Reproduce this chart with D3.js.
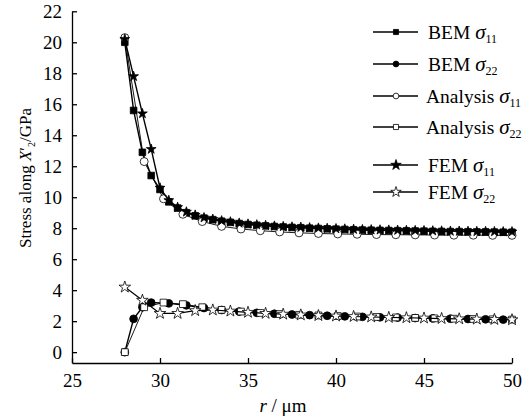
<!DOCTYPE html>
<html>
<head>
<meta charset="utf-8">
<script src="https://cdn.jsdelivr.net/npm/d3@7"></script>
<style>
  body { margin: 0; background: #fff; }
  svg { display: block; }
  svg text { font-family: 'Liberation Serif', 'Times New Roman', Tinos, serif; fill: #000; }
</style>
</head>
<body>
<div id="chart"></div>
<script>
const WIDTH = 529
const HEIGHT = 419
const FONT = "'Liberation Serif', 'Times New Roman', Tinos, serif"

// r (μm) sample positions for each series
const R_HALF = [28, 28.5, 29, 29.5, 30, 30.5, 31, 31.5, 32, 32.5, 33, 33.5, 34, 34.5, 35, 35.5, 36, 36.5, 37, 37.5,
  38, 38.5, 39, 39.5, 40, 40.5, 41, 41.5, 42, 42.5, 43, 43.5, 44, 44.5, 45, 45.5, 46, 46.5, 47, 47.5,
  48, 48.5, 49, 49.5, 50]
const R_ANALYSIS = [28, 29.1, 30.2, 31.3, 32.4, 33.5, 34.6, 35.7, 36.8, 37.9, 39, 40.1, 41.2, 42.3, 43.4, 44.5,
  45.6, 46.7, 47.8, 48.9, 50]
const R_BEM22 = [28, 28.5, 29, 29.5, 30.5, 31.5, 32.5, 33.5, 34.5, 35.5, 36.5, 37.5, 38.5, 39.5, 40.5, 41.5,
  42.5, 43.5, 44.5, 45.5, 46.5, 47.5, 48.5, 49.5]
const R_FEM22 = [28, 29, 30, 31, 32, 33, 34, 35, 36, 37, 38, 39, 40, 41, 42, 43, 44, 45, 46, 47, 48, 49, 50]

// stress values (GPa)
const BEM_S11 = [20.0, 15.6, 12.9, 11.4, 10.5, 9.7, 9.3, 9.0, 8.8, 8.65, 8.55, 8.45, 8.38, 8.3, 8.24, 8.19, 8.15, 8.11, 8.08, 8.05,
  8.03, 8.0, 7.98, 7.96, 7.94, 7.92, 7.9, 7.88, 7.87, 7.86, 7.85, 7.84, 7.83, 7.82, 7.81, 7.8, 7.79, 7.78, 7.78, 7.77,
  7.76, 7.76, 7.75, 7.74, 7.74]
const FEM_S11 = [20.2, 17.8, 15.4, 13.1, 10.6, 9.8, 9.35, 9.05, 8.85, 8.68, 8.58, 8.48, 8.41, 8.33, 8.27, 8.22, 8.18, 8.14, 8.11, 8.08,
  8.06, 8.03, 8.01, 7.99, 7.97, 7.95, 7.93, 7.91, 7.9, 7.89, 7.88, 7.87, 7.86, 7.85, 7.84, 7.83, 7.82, 7.81, 7.81, 7.8,
  7.79, 7.79, 7.78, 7.77, 7.77]
const ANA_S11 = [20.3, 12.3, 9.9, 8.9, 8.43, 8.12, 7.95, 7.84, 7.76, 7.7, 7.66, 7.63, 7.61, 7.59, 7.58, 7.57,
  7.56, 7.55, 7.55, 7.54, 7.54]
const ANA_S22 = [0, 2.9, 3.2, 3.1, 2.9, 2.73, 2.62, 2.53, 2.46, 2.41, 2.37, 2.33, 2.3, 2.27, 2.24, 2.21,
  2.18, 2.16, 2.14, 2.12, 2.1]
const BEM_S22 = [0, 2.15, 2.9, 3.2, 3.15, 3.02, 2.85, 2.72, 2.62, 2.54, 2.48, 2.43, 2.39, 2.35, 2.31, 2.28,
  2.25, 2.23, 2.2, 2.18, 2.16, 2.14, 2.12, 2.1]
const FEM_S22 = [4.2, 3.35, 2.5, 2.5, 2.68, 2.72, 2.65, 2.57, 2.5, 2.45, 2.4, 2.36, 2.33, 2.3, 2.27, 2.24,
  2.22, 2.2, 2.17, 2.15, 2.13, 2.11, 2.09]

const X_TICKS = [25, 30, 35, 40, 45, 50]
const Y_TICKS = [0, 2, 4, 6, 8, 10, 12, 14, 16, 18, 20, 22]

const LEGEND_NAMES = ['BEM', 'BEM', 'Analysis', 'Analysis', 'FEM', 'FEM']
const LEGEND_SUBS = ['11', '22', '11', '22', '11', '22']

const series = [
  {r: R_HALF, v: BEM_S11, sym: d3.symbolSquare, size: 44, fill: '#000', lw: 1.4},
  {r: R_BEM22, v: BEM_S22, sym: d3.symbolCircle, size: 48, fill: '#000', lw: 1.4},
  {r: R_ANALYSIS, v: ANA_S11, sym: d3.symbolCircle, size: 50, fill: '#fff', lw: 0.9},
  {r: R_ANALYSIS, v: ANA_S22, sym: d3.symbolSquare, size: 46, fill: '#fff', lw: 0.9},
  {r: R_HALF, v: FEM_S11, sym: d3.symbolStar, size: 30, fill: '#000', lw: 1.4},
  {r: R_FEM22, v: FEM_S22, sym: d3.symbolStar, size: 42, fill: '#fff', lw: 1.2}
]

const svg = d3.select('#chart').append('svg')
  .attr('width', WIDTH).attr('height', HEIGHT)

const x = d3.scaleLinear().domain([25, 50]).range([72, 512])
const y = d3.scaleLinear().domain([-0.7, 22]).range([363, 11.3])

// 坐标轴
const xAxis = d3.axisBottom(x).tickValues(X_TICKS).tickSize(-5).tickSizeOuter(0).tickPadding(11)
const xg = svg.append('g').attr('transform', `translate(0, ${y(-0.7)})`).call(xAxis)
const yAxis = d3.axisLeft(y).tickValues(Y_TICKS).tickSize(-5).tickSizeOuter(0).tickPadding(10)
const yg = svg.append('g').attr('transform', `translate(${x(25)}, 0)`).call(yAxis)

for (const g of [xg, yg]) {
  g.attr('font-family', FONT)
  g.selectAll('.domain, .tick line').attr('stroke', '#000').attr('stroke-width', 1.3)
  g.selectAll('.tick text').attr('font-size', 19).attr('font-family', FONT)
}

// 数据曲线
const line = d3.line().x(d => x(d[0])).y(d => y(d[1]))
series.forEach(s => {
  const pts = s.r.map((r, i) => [r, s.v[i]])
  svg.append('path').datum(pts)
    .attr('d', line).attr('fill', 'none')
    .attr('stroke', '#000').attr('stroke-width', s.lw)
  svg.append('g').selectAll('path').data(pts).join('path')
    .attr('transform', d => `translate(${x(d[0])}, ${y(d[1])})`)
    .attr('d', d3.symbol(s.sym, s.size))
    .attr('fill', s.fill).attr('stroke', '#000').attr('stroke-width', 0.8)
})

// 图例
const LEGEND_Y = [32, 64, 96, 127, 165, 192]
const legend = svg.append('g').attr('font-family', FONT)
series.forEach((s, i) => {
  const row = legend.append('g').attr('transform', `translate(0, ${LEGEND_Y[i]})`)
  row.append('line').attr('x1', 373).attr('x2', 418)
    .attr('stroke', '#000').attr('stroke-width', 1.3)
  row.append('path').attr('transform', 'translate(396, 0)')
    .attr('d', d3.symbol(s.sym, s.sym === d3.symbolStar ? 34 : 26))
    .attr('fill', s.fill).attr('stroke', '#000').attr('stroke-width', 0.8)
  const t = row.append('text').attr('x', LEGEND_NAMES[i] === 'Analysis' ? 426 : 428)
    .attr('y', 6.5).attr('font-size', 19.5)
  t.append('tspan').text(LEGEND_NAMES[i] + ' ')
  t.append('tspan').attr('font-style', 'italic').attr('font-size', 21).text('σ')
  t.append('tspan').attr('font-size', 12).attr('dy', 4).text(LEGEND_SUBS[i])
})

// 轴标题
const yt = svg.append('text')
  .attr('transform', 'translate(31, 178) rotate(-90)')
  .attr('text-anchor', 'middle').attr('font-size', 17).attr('font-family', FONT)
yt.append('tspan').text('Stress along ')
yt.append('tspan').attr('font-style', 'italic').text('X')
yt.append('tspan').text('′')
yt.append('tspan').attr('font-size', 10).attr('dy', 4).text('2')
yt.append('tspan').attr('dy', -4).text('/GPa')

const xt = svg.append('text')
  .attr('x', 283).attr('y', 412)
  .attr('text-anchor', 'middle').attr('font-size', 19).attr('font-family', FONT)
xt.append('tspan').attr('font-style', 'italic').text('r')
xt.append('tspan').text(' / μm')
</script>
</body>
</html>
